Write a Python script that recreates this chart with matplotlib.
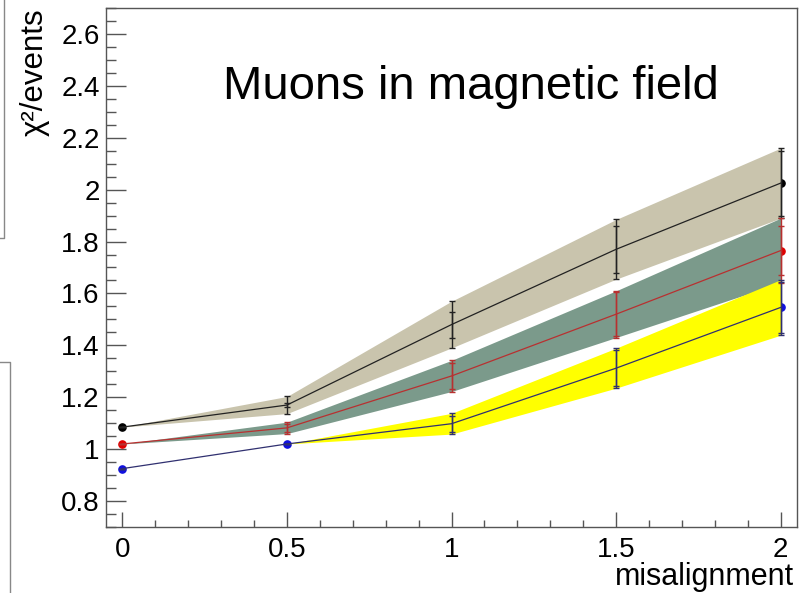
import matplotlib
matplotlib.use('Agg')
import matplotlib.pyplot as plt
from matplotlib.lines import Line2D
from matplotlib.ticker import MultipleLocator
import numpy as np

plt.rcParams['font.family'] = ['Liberation Sans', 'DejaVu Sans']

# misalignment values
mis = [0, 0.5, 1, 1.5, 2]

# black series (top band)
black_y = [1.085, 1.17, 1.48, 1.77, 2.025]
black_stat = [0.0, 0.008, 0.05, 0.09, 0.125]
black_tot = [0.0, 0.033, 0.09, 0.115, 0.135]

# red series (middle band)
red_y = [1.02, 1.082, 1.282, 1.52, 1.765]
red_stat = [0.0, 0.014, 0.05, 0.085, 0.093]
red_tot = [0.0, 0.022, 0.06, 0.09, 0.125]

# blue series (bottom band)
blue_y = [0.925, 1.02, 1.098, 1.312, 1.546]
blue_stat = [0.0, 0.0, 0.03, 0.07, 0.1]
blue_tot = [0.0, 0.0, 0.04, 0.077, 0.107]

series = [
    (black_y, black_stat, black_tot, 'black', '#c9c4ad', '#222222'),
    (red_y, red_stat, red_tot, '#e00000', '#7b9a8b', '#b83030'),
    (blue_y, blue_stat, blue_tot, '#1010e0', '#ffff00', '#303070'),
]

fig = plt.figure(figsize=(8.08, 5.93), dpi=100)
ax = fig.add_axes([106 / 808, 1 - 527 / 593, (797 - 106) / 808, (527 - 8) / 593])

x = np.array(mis)
for y, stat, tot, mcol, bcol, lcol in series:
    y = np.array(y)
    stat = np.array(stat)
    tot = np.array(tot)
    # markers go under the bands, like in the original
    ax.plot(x, y, 'o', color=mcol, ms=5.2, zorder=2)
    ax.fill_between(x, y - tot, y + tot, color=bcol, lw=0, zorder=3)
    ax.plot(x, y, '-', color=lcol, lw=0.9, zorder=4)
    ax.errorbar(x, y, yerr=tot, fmt='none', ecolor=lcol, elinewidth=1.0,
                capsize=2.2, capthick=1.0, zorder=5)
    ax.errorbar(x, y, yerr=stat, fmt='none', ecolor=lcol, elinewidth=1.0,
                capsize=2.2, capthick=1.0, zorder=5)

ax.set_xlim(-0.05, 2.05)
ax.set_ylim(0.7, 2.7)
ax.xaxis.set_major_locator(MultipleLocator(0.5))
ax.xaxis.set_minor_locator(MultipleLocator(0.1))
ax.yaxis.set_major_locator(MultipleLocator(0.2))
ax.yaxis.set_minor_locator(MultipleLocator(0.05))

def fmt(v, pos):
    return '%g' % round(v, 2)

ax.xaxis.set_major_formatter(plt.FuncFormatter(fmt))
ax.yaxis.set_major_formatter(plt.FuncFormatter(fmt))

frame_col = '#555555'
for sp in ax.spines.values():
    sp.set_color(frame_col)
    sp.set_linewidth(1.0)
ax.tick_params(axis='both', which='both', direction='in', colors=frame_col,
               labelcolor='black', width=1.0, top=False, right=False)
ax.tick_params(axis='y', which='major', length=14.4, labelsize=20, pad=4.5)
ax.tick_params(axis='y', which='minor', length=7.2)
ax.tick_params(axis='x', which='major', length=10.8, labelsize=20, pad=7.5)
ax.tick_params(axis='x', which='minor', length=5.2)

fig.text(223 / 808, 1 - 99 / 593, 'Muons in magnetic field', fontsize=34,
         ha='left', va='baseline')
fig.text(794 / 808, 1 - 585 / 593, 'misalignment', fontsize=22,
         ha='right', va='baseline')
fig.text(35 / 808, 1 - 8 / 593, 'χ²/events', fontsize=22.5, rotation=90,
         ha='center', va='top')

# bits of neighbouring pads cut off at the left edge
edge = '#888888'
fig.add_artist(Line2D([4 / 808, 4 / 808, 0], [1, 1 - 238 / 593, 1 - 238 / 593],
                      transform=fig.transFigure, color=edge, lw=1))
fig.add_artist(Line2D([0, 10 / 808, 10 / 808], [1 - 362 / 593, 1 - 362 / 593, 0],
                      transform=fig.transFigure, color=edge, lw=1))

fig.savefig('out.png', dpi=100)
